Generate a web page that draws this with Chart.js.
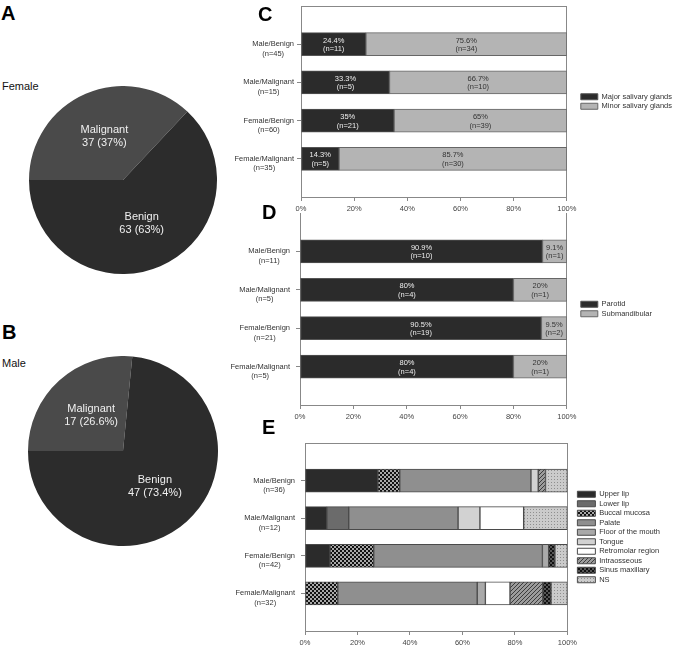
<!DOCTYPE html>
<html>
<head>
<meta charset="utf-8">
<script src="https://cdn.jsdelivr.net/npm/chart.js@4"></script>
<style>
body { margin: 0; background: #fff; overflow: hidden; }
#fig { position: relative; width: 676px; height: 655px; overflow: hidden; font-family: "Liberation Sans", Arial, sans-serif; }
canvas, .t { position: absolute; }
.big { font-weight: bold; font-size: 20px; line-height: 20px; color: #000; }
.lab { font-size: 11px; line-height: 11px; color: #111; }
</style>
</head>
<body>
<div id="fig">
  <div class="t big" style="left:1px;top:3px">A</div>
  <div class="t lab" style="left:2px;top:81px">Female</div>
  <canvas id="pieA" width="188" height="188" style="left:29px;top:86px"></canvas>

  <div class="t big" style="left:2px;top:322px">B</div>
  <div class="t lab" style="left:2px;top:358px">Male</div>
  <canvas id="pieB" width="190" height="190" style="left:28px;top:356px"></canvas>

  <canvas id="barC" width="456" height="217" style="left:220px;top:0px"></canvas>
  <canvas id="barD" width="456" height="215" style="left:220px;top:210px"></canvas>
  <canvas id="barE" width="456" height="221" style="left:220px;top:430px"></canvas>

  <div class="t big" style="left:258px;top:4px">C</div>
  <div class="t big" style="left:262px;top:202px">D</div>
  <div class="t big" style="left:262px;top:417px">E</div>
</div>

<script>
// groups on the y axis of C, D, E
const cats = ['Male/Benign', 'Male/Malignant', 'Female/Benign', 'Female/Malignant'];
const xTicks = [0, 20, 40, 60, 80, 100];

// A / B pies
const pieLabels = ['Malignant', 'Benign'];
const femaleN = [37, 63];
const femalePct = [37, 63];
const maleN = [17, 47];
const malePct = [26.6, 73.4];

// C: major vs minor salivary glands
const nC = [45, 15, 60, 35];
const majorPct = [24.4, 33.3, 35, 14.3];
const majorN = [11, 5, 21, 5];
const minorPct = [75.6, 66.7, 65, 85.7];
const minorN = [34, 10, 39, 30];

// D: parotid vs submandibular
const nD = [11, 5, 21, 5];
const parotidPct = [90.9, 80, 90.5, 80];
const parotidN = [10, 4, 19, 4];
const submandPct = [9.1, 20, 9.5, 20];
const submandN = [1, 1, 2, 1];

// E: minor gland sites (counts)
const nE = [36, 12, 42, 32];
const upperLip = [10, 1, 4, 0];
const lowerLip = [0, 1, 0, 0];
const buccal = [3, 0, 7, 4];
const palate = [18, 5, 27, 17];
const floorMouth = [0, 0, 1, 1];
const tongue = [1, 1, 0, 0];
const retromolar = [0, 2, 0, 3];
const intraosseous = [1, 0, 0, 4];
const sinus = [0, 0, 1, 1];
const ns = [3, 2, 2, 2];

const FAM = '"Liberation Sans", Arial, sans-serif';
const small = { family: FAM, size: 7.5 };
const AX = '#888';
const NONE = 'rgba(0,0,0,0)';

// empty slot above and below the four groups
const pad = a => [null, ...a, null];

function pattern(size, draw) {
  const c = document.createElement('canvas');
  c.width = c.height = size;
  const g = c.getContext('2d');
  draw(g, size);
  return g.createPattern(c, 'repeat');
}
const checker = (bg, fg) => pattern(4, (g) => {
  g.fillStyle = bg; g.fillRect(0, 0, 4, 4);
  g.fillStyle = fg; g.fillRect(0, 0, 2, 2); g.fillRect(2, 2, 2, 2);
});
const hatch = pattern(4, (g) => {
  g.fillStyle = '#9c9c9c'; g.fillRect(0, 0, 4, 4);
  g.strokeStyle = '#3c3c3c'; g.lineWidth = 1;
  g.beginPath(); g.moveTo(0, 4); g.lineTo(4, 0); g.moveTo(-1, 1); g.lineTo(1, -1); g.moveTo(3, 5); g.lineTo(5, 3); g.stroke();
});
const dots = pattern(3, (g) => {
  g.fillStyle = '#cbcbcb'; g.fillRect(0, 0, 3, 3);
  g.fillStyle = '#8f8f8f'; g.fillRect(1, 1, 1, 1);
});

// ---- pies ----
const pieText = {
  id: 'pieText',
  afterDatasetsDraw(chart) {
    const { ctx } = chart;
    const ds = chart.data.datasets[0];
    ctx.save();
    ctx.font = '11px ' + FAM;
    ctx.fillStyle = '#f0f0f0';
    ctx.textAlign = 'center';
    ctx.textBaseline = 'middle';
    chart.getDatasetMeta(0).data.forEach((arc, i) => {
      const p = arc.tooltipPosition();
      ctx.fillText(chart.data.labels[i], p.x, p.y - 6.5);
      ctx.fillText(ds.data[i] + ' (' + ds.pct[i] + '%)', p.x, p.y + 6.5);
    });
    ctx.restore();
  }
};

function pie(id, vals, pct) {
  new Chart(document.getElementById(id), {
    type: 'pie',
    data: {
      labels: pieLabels,
      datasets: [{ data: vals, pct: pct, backgroundColor: ['#4a4a4a', '#2c2c2c'], borderWidth: 0 }]
    },
    plugins: [pieText],
    options: {
      responsive: false,
      animation: false,
      events: [],
      rotation: -90,
      plugins: { legend: { display: false }, tooltip: { enabled: false } }
    }
  });
}
pie('pieA', femaleN, femalePct);
pie('pieB', maleN, malePct);

// ---- stacked bars ----
const catLabels = {
  id: 'catLabels',
  afterDraw(chart, args, opts) {
    const { ctx } = chart;
    const y = chart.scales.y;
    const x0 = chart.chartArea.left - opts.gap;
    ctx.save();
    ctx.font = '7.5px ' + FAM;
    ctx.fillStyle = '#333';
    ctx.textBaseline = 'middle';
    cats.forEach((c, i) => {
      const py = y.getPixelForValue(i + 1);
      const w = ctx.measureText(c).width;
      ctx.textAlign = 'right';
      ctx.fillText(c, x0, py);
      ctx.textAlign = 'center';
      ctx.fillText('(n=' + opts.n[i] + ')', x0 - w / 2, py + 9.5);
    });
    ctx.restore();
  }
};

const barText = {
  id: 'barText',
  afterDatasetsDraw(chart) {
    const { ctx } = chart;
    ctx.save();
    ctx.font = '7.5px ' + FAM;
    ctx.textAlign = 'center';
    ctx.textBaseline = 'middle';
    chart.data.datasets.forEach((ds, k) => {
      if (!ds.counts) return;
      ctx.fillStyle = ds.textColor;
      chart.getDatasetMeta(k).data.forEach((bar, j) => {
        const v = ds.data[j];
        if (v == null) return;
        const cx = (bar.x + bar.base) / 2;
        ctx.fillText(v + '%', cx, bar.y - 3.5);
        ctx.fillText('(n=' + ds.counts[j] + ')', cx, bar.y + 5);
      });
    });
    ctx.restore();
  }
};

// width the legend takes on the right (as Chart.js sizes it)
function legendWidth(labels, bw) {
  const g = document.createElement('canvas').getContext('2d');
  g.font = '7.5px ' + FAM;
  return 2 + bw + 3.75 + Math.max(...labels.map(t => g.measureText(t).width)) + 10;
}

function panel(id, n, datasets, o) {
  const cv = document.getElementById(id);
  // chart area right edge sits 347px from the canvas' left edge
  cv.width = Math.round(347 + o.gap + legendWidth(datasets.map(d => d.label), o.bw));
  return new Chart(cv, {
    type: 'bar',
    data: { labels: ['', ...cats, ''], datasets },
    plugins: [barText, catLabels],
    options: {
      indexAxis: 'y',
      responsive: false,
      animation: false,
      events: [],
      layout: { padding: { left: 0, top: o.top, right: 0, bottom: 0 } },
      datasets: { bar: { barThickness: 23, borderSkipped: false } },
      scales: {
        x: {
          type: 'linear', stacked: true, min: 0, max: 100,
          afterBuildTicks: s => { s.ticks = xTicks.map(v => ({ value: v })); },
          afterFit: s => { s.height = 20; },
          ticks: { callback: v => v + '%', font: small, color: '#444', padding: 3, maxRotation: 0 },
          grid: { drawOnChartArea: false, tickLength: 4, tickColor: AX },
          border: { color: AX }
        },
        y: {
          stacked: true, offset: false,
          afterFit: s => { s.width = o.yw; },
          ticks: { display: false },
          grid: {
            offset: false,
            color: c => (o.topLine && c.index === 0) ? AX : NONE,
            tickColor: c => (c.index > 0 && c.index < 5) ? AX : NONE,
            tickLength: 4
          },
          border: { color: AX }
        },
        y2: {
          type: 'category', position: 'right', offset: false,
          afterFit: s => { s.width = o.gap; },
          ticks: { display: false },
          grid: { display: false, offset: false },
          border: { color: AX }
        }
      },
      plugins: {
        legend: {
          position: 'right', fullSize: false, maxWidth: 300,
          labels: { boxWidth: o.bw, boxHeight: 6, padding: 2, font: small, color: '#333' }
        },
        tooltip: { enabled: false },
        catLabels: { n: n, gap: o.lgap }
      }
    }
  });
}

panel('barC', nC, [
  { label: 'Major salivary glands', data: pad(majorPct), counts: pad(majorN), textColor: '#eee',
    backgroundColor: '#2b2b2b', borderColor: '#555', borderWidth: 1 },
  { label: 'Minor salivary glands', data: pad(minorPct), counts: pad(minorN), textColor: '#333',
    backgroundColor: '#b4b4b4', borderColor: '#666', borderWidth: 1 }
], { top: 6, yw: 81, gap: 12, lgap: 7, bw: 17, topLine: true });

panel('barD', nD, [
  { label: 'Parotid', data: pad(parotidPct), counts: pad(parotidN), textColor: '#eee',
    backgroundColor: '#2b2b2b', borderColor: '#555', borderWidth: 1 },
  { label: 'Submandibular', data: pad(submandPct), counts: pad(submandN), textColor: '#333',
    backgroundColor: '#b4b4b4', borderColor: '#666', borderWidth: 1 }
], { top: 3, yw: 80, gap: 12, lgap: 10, bw: 17, topLine: false });

const pctE = a => pad(a.map((v, i) => v ? v / nE[i] * 100 : null));
const siteSets = [
  ['Upper lip', upperLip, '#2b2b2b'],
  ['Lower lip', lowerLip, '#6b6b6b'],
  ['Buccal mucosa', buccal, checker('#a8a8a8', '#111')],
  ['Palate', palate, '#8f8f8f'],
  ['Floor of the mouth', floorMouth, '#a9a9a9'],
  ['Tongue', tongue, '#d2d2d2'],
  ['Retromolar region', retromolar, '#ffffff'],
  ['Intraosseous', intraosseous, hatch],
  ['Sinus maxillary', sinus, checker('#555', '#111')],
  ['NS', ns, dots]
];
panel('barE', nE, siteSets.map(([label, vals, bg]) => ({
  label, data: pctE(vals), backgroundColor: bg, borderColor: '#4a4a4a', borderWidth: 1
})), { top: 13, yw: 85, gap: 8, lgap: 10, bw: 18, topLine: true });
</script>
</body>
</html>
